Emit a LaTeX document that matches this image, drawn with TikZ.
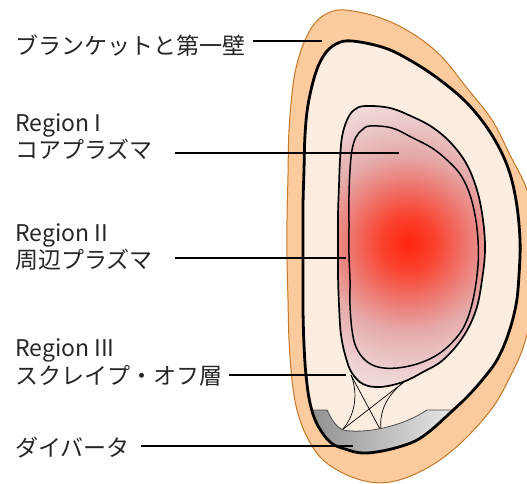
\documentclass[tikz,border=0pt]{standalone}
\usepackage{fontspec}
\setmainfont{Noto Sans CJK JP}

\definecolor{glowcore}{RGB}{255,36,12}
\definecolor{glowhot}{RGB}{250,66,46}
\definecolor{glowmid}{RGB}{238,118,110}
\definecolor{glowpink}{RGB}{229,170,170}
\definecolor{glowpale}{RGB}{238,208,208}
\definecolor{glowfaint}{RGB}{247,234,234}
\pgfdeclareradialshading{plasmaglow}{\pgfpoint{0bp}{0bp}}{%
  color(0bp)=(glowcore); color(4bp)=(glowhot); color(8.5bp)=(glowmid);
  color(13bp)=(glowpink); color(19bp)=(glowpale); color(25bp)=(glowfaint);
  color(50bp)=(glowfaint)}

\tikzset{
  wall/.style={line width=2.8pt, draw=black},
  flux/.style={line width=1.7pt, draw=black},
  fluxleg/.style={line width=0.7pt, draw=black},
  divedge/.style={line width=0.8pt, draw=black!70},
  leader/.style={line width=1.7pt, draw=black},
  lbl/.style={anchor=base west, inner sep=0pt, text=black!85, font=\fontsize{23}{27}\selectfont},
}

\begin{document}
\begin{tikzpicture}[x=1pt, y=-1pt]
    \definecolor{blanketfill}{RGB}{251,203,157}
    \definecolor{blanketedge}{RGB}{196,120,40}
    \definecolor{vesselfill}{RGB}{253,237,225}
    \definecolor{divdark}{RGB}{138,138,138}
    \definecolor{divlight}{RGB}{242,242,242}

    \useasboundingbox (0,0) rectangle (527,483);
    \clip (0,0) rectangle (527,483);

    % blanket and first wall
    \filldraw[fill=blanketfill, draw=blanketedge, line width=1pt]
        plot[smooth cycle, tension=0.6] coordinates {(345,10) (378,17) (410,32) (440,55) (467,88) (492,120) (510,155) (527,190) (535,230) (537,265) (533,305) (524,345) (510,377) (493,407) (467,437) (440,460) (413,475) (390,482) (370,482) (347,475) (323,460) (307,437) (297,410) (292,380) (289,340) (288,300) (287,260) (287,220) (288,175) (289,130) (293,85) (298,60) (305,40) (315,23) (328,13)};
    \path[save path=\wallp]
        plot[smooth cycle, tension=0.6] coordinates {(352,41) (385,48) (413,62) (440,80) (467,103) (490,132) (507,165) (516,200) (520,240) (519,275) (516,305) (508,335) (497,360) (483,379) (467,397) (450,413) (430,431) (413,442) (387,450) (363,453) (345,449) (330,442) (317,424) (310,403) (306,375) (304,345) (303,310) (303,275) (303,240) (303,205) (304,170) (305,135) (308,105) (315,75) (324,55) (336,44)};
    \fill[vesselfill, use path=\wallp];

    % plasma
    \path[save path=\sepx]
        plot[smooth cycle, tension=0.6] coordinates {(365,106) (390,108) (413,117) (432,127) (450,142) (466,163) (477,190) (483,220) (485,250) (482,280) (476,310) (463,337) (443,360) (423,372) (403,382) (380,387) (363,384) (352,373) (346,358) (341,335) (339,305) (338,275) (338,245) (338,215) (339,185) (340,160) (342,137) (347,120) (354,110)};
    \begin{scope}
        \clip[use path=\sepx];
        \shade[shading=plasmaglow] (408,243) circle (170);
    \end{scope}
    \draw[flux, use path=\sepx];
    \draw[flux, line width=1.5pt]
        plot[smooth cycle, tension=0.6] coordinates {(370,126) (392,128) (413,138) (432,148) (447,160) (460,174) (469,192) (475,215) (478,240) (478,265) (474,295) (467,320) (457,337) (440,353) (420,363) (397,368) (378,367) (365,360) (356,347) (352,330) (350,305) (350,280) (349,255) (349,225) (349,195) (350,170) (352,150) (356,137) (362,130)};

    \coordinate (xl) at (351,375);
    \coordinate (xr) at (404,382);
    \coordinate (strikel) at (342,430);
    \coordinate (striker) at (381,431);
    \draw[fluxleg] (xl) .. controls (358,392) and (356,415) .. (strikel);
    \draw[fluxleg] (xl) -- (striker);
    \draw[fluxleg] (xr) -- (strikel);
    \draw[fluxleg] (xr) .. controls (386,396) and (379,412) .. (striker);

    % divertor
    \begin{scope}
        \clip[use path=\wallp];
        \shade[left color=divdark, right color=divlight]
            (300,410) -- (327,410) .. controls (332,420) and (336,427) .. (343,430)
            .. controls (362,434) and (400,428) .. (427,410) -- (470,410) -- (470,470) -- (300,470) -- cycle;
        \draw[divedge] (300,410) -- (327,410) .. controls (332,420) and (336,427) .. (343,430)
            .. controls (362,434) and (400,428) .. (427,410) -- (470,410);
    \end{scope}
    \draw[wall, use path=\wallp];

    % labels
    \node[lbl] (blanket) at (15,54) {ブランケットと第一壁};
    \node[lbl] (reg1) at (15,131) {Region I};
    \node[lbl] (core) at (15,158) {コアプラズマ};
    \node[lbl] (reg2) at (15,241) {Region II};
    \node[lbl] (edge) at (15,268) {周辺プラズマ};
    \node[lbl] (reg3) at (15,356) {Region III};
    \node[lbl] (sol) at (15,384) {スクレイプ・オフ層};
    \node[lbl] (div) at (15,456) {ダイバータ};

    \coordinate (blanket-a) at (253,41);
    \coordinate (blanket-b) at (322,41);
    \coordinate (core-a) at (175,153);
    \coordinate (core-b) at (399,153);
    \coordinate (edge-a) at (175,258);
    \coordinate (edge-b) at (346,258);
    \coordinate (sol-a) at (229,375);
    \coordinate (sol-b) at (346,375);
    \coordinate (div-a) at (141,446);
    \coordinate (div-b) at (353,446);
    \draw[leader] (blanket-a) -- (blanket-b);
    \draw[leader] (core-a) -- (core-b);
    \draw[leader] (edge-a) -- (edge-b);
    \draw[leader] (sol-a) -- (sol-b);
    \draw[leader] (div-a) -- (div-b);
\end{tikzpicture}
\end{document}
